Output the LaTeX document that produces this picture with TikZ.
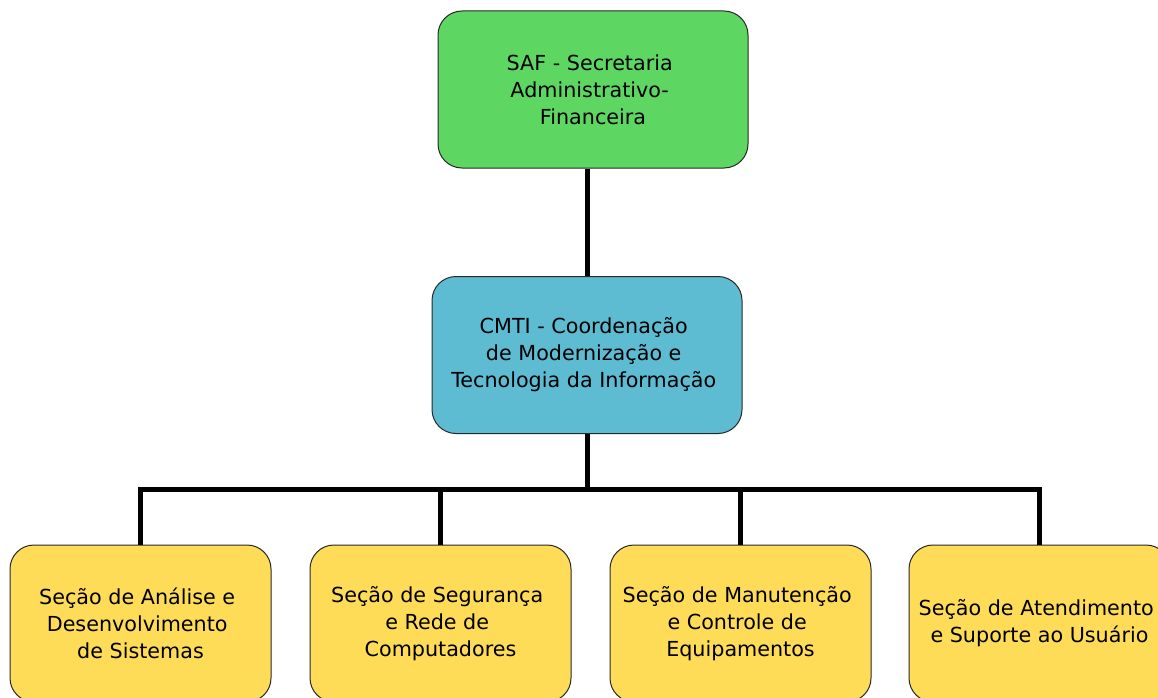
\documentclass[tikz,border=0pt]{standalone}
\usepackage{fontspec}
\setmainfont{DejaVu Sans}
\definecolor{safgreen}{RGB}{94,214,98}
\definecolor{cmtiblue}{RGB}{93,188,210}
\definecolor{secyellow}{RGB}{254,220,88}
\definecolor{edgegray}{RGB}{40,40,40}
\newcommand\tsp{\hbox to 0.318em{}}
\begin{document}
\begin{tikzpicture}[x=1pt,y=-1pt,
  box/.style={draw=edgegray, line width=1pt, rounded corners=24pt, rectangle,
    minimum width=310pt, minimum height=157pt, align=center, inner sep=0pt,
    font=\fontsize{20.7}{27}\selectfont},
  secbox/.style={box, fill=secyellow, minimum width=261pt},
  link/.style={line width=5pt}]
\useasboundingbox (0,0) rectangle (1158,698);
\clip (0,0) rectangle (1158,698);
\node[box, fill=safgreen] (saf) at (593,89.5) {SAF - Secretaria\tsp\\Administrativo-\tsp\\Financeira};
\node[box, fill=cmtiblue] (cmti) at (587,355) {CMTI - Coordenação\tsp\\de Modernização e\tsp\\Tecnologia da Informação\tsp};
\node[secbox] (s1) at (140.5,623.5) {Seção de Análise e\tsp\\Desenvolvimento\tsp\\de Sistemas};
\node[secbox] (s2) at (440.5,623.5) {Seção de Segurança\tsp\\e Rede de\tsp\\Computadores};
\node[secbox] (s3) at (740.5,623.5) {Seção de Manutenção\tsp\\e Controle de\tsp\\Equipamentos};
\node[secbox] (s4) at (1039.5,623.5) {Seção de Atendimento\tsp\\e Suporte ao Usuário};
\coordinate (bus) at (587,489);
\draw[link] (cmti.north) -- (cmti.north |- saf.south);
\draw[link] (cmti.south) -- (bus);
\draw[link] (s1.north) |- (bus) -| (s4.north);
\draw[link] (s2.north) -- (s2.north |- bus);
\draw[link] (s3.north) -- (s3.north |- bus);
\end{tikzpicture}
\end{document}
